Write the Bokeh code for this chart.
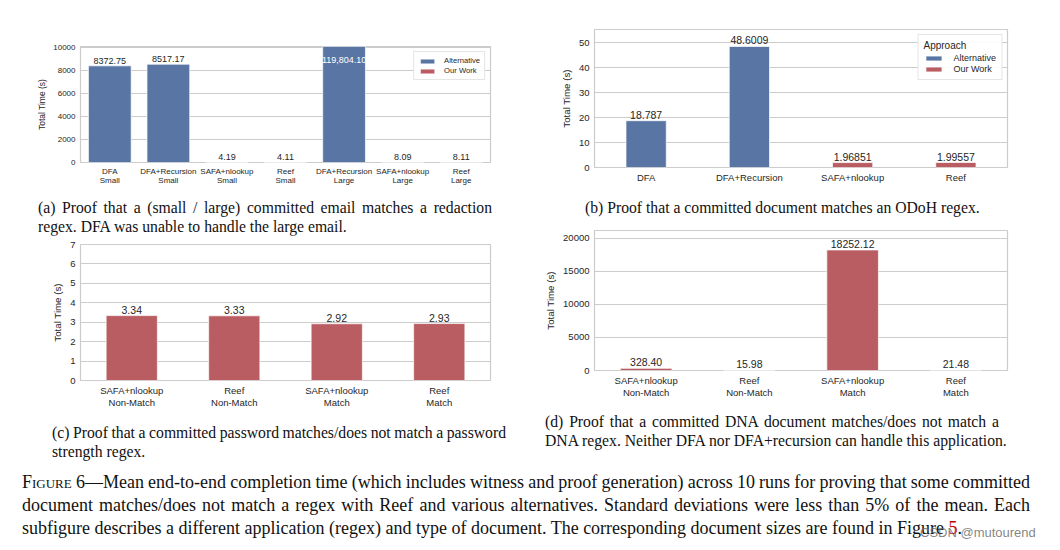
from bokeh.plotting import figure
from bokeh.models import (ColumnDataSource, FactorRange, Range1d, FixedTicker,
                          Legend, LegendItem, Div)
from bokeh.layouts import column, row
from bokeh.embed import file_html
from bokeh.resources import INLINE
from bokeh.core.properties import value

# ---------------- data ----------------
a_categories = ["DFA\nSmall", "DFA+Recursion\nSmall", "SAFA+nlookup\nSmall", "Reef\nSmall",
                "DFA+Recursion\nLarge", "SAFA+nlookup\nLarge", "Reef\nLarge"]
a_values = [8372.75, 8517.17, 4.19, 4.11, 119804.10, 8.09, 8.11]
a_approach = ["Alternative", "Alternative", "Our Work", "Our Work",
              "Alternative", "Our Work", "Our Work"]
a_yticks = [0, 2000, 4000, 6000, 8000, 10000]
a_ymax = 10050

b_categories = ["DFA", "DFA+Recursion", "SAFA+nlookup", "Reef"]
b_values = [18.787, 48.6009, 1.96851, 1.99557]
b_approach = ["Alternative", "Alternative", "Our Work", "Our Work"]
b_yticks = [0, 10, 20, 30, 40, 50]
b_ymax = 55.4

c_categories = ["SAFA+nlookup\nNon-Match", "Reef\nNon-Match", "SAFA+nlookup\nMatch", "Reef\nMatch"]
c_values = [3.34, 3.33, 2.92, 2.93]
c_approach = ["Our Work", "Our Work", "Our Work", "Our Work"]
c_yticks = [0, 1, 2, 3, 4, 5, 6, 7]
c_ymax = 7

d_categories = ["SAFA+nlookup\nNon-Match", "Reef\nNon-Match", "SAFA+nlookup\nMatch", "Reef\nMatch"]
d_values = [328.40, 15.98, 18252.12, 21.48]
d_approach = ["Our Work", "Our Work", "Our Work", "Our Work"]
d_yticks = [0, 5000, 10000, 15000, 20000]
d_ymax = 21200

# ---------------- style ----------------
BLUE = "#5875A4"
RED = "#BA5D62"
COLORS = {"Alternative": BLUE, "Our Work": RED}
SANS = "Liberation Sans"
SERIF = "Liberation Serif"
TEXT = "#262626"
GRID = "#CCCCCC"


def fmt2(v, ymax):
    return f"{v:,.2f}" if v > ymax else f"{v:.2f}"


def fmtg(v, ymax):
    return f"{v:g}"


def make_panel(cats, vals, apps, yticks, ymax, bar_w, size, borders, fs, fmt,
               legend=None, legend_title=None, ylab_standoff=4):
    w, h = size
    bl, br, bt, bb = borders
    tick_fs, lab_fs, ylab_fs = fs
    p = figure(x_range=FactorRange(*cats), y_range=Range1d(0, ymax),
               width=w, height=h, output_backend="svg", toolbar_location=None,
               min_border_left=bl, min_border_right=br,
               min_border_top=bt, min_border_bottom=bb)
    p.outline_line_color = GRID
    p.outline_line_width = 1.2
    p.xgrid.grid_line_color = None
    p.ygrid.grid_line_color = GRID
    p.ygrid.grid_line_width = 1.2
    p.yaxis.ticker = FixedTicker(ticks=yticks)
    for ax in (p.xaxis[0], p.yaxis[0]):
        ax.axis_line_color = None
        ax.major_tick_line_color = None
        ax.minor_tick_line_color = None
        ax.major_tick_out = 0
        ax.major_tick_in = 0
        ax.minor_tick_out = 0
        ax.minor_tick_in = 0
        ax.major_label_text_font = SANS
        ax.major_label_text_font_size = f"{tick_fs}px"
        ax.major_label_text_color = TEXT
    p.xaxis.major_label_standoff = 4
    p.yaxis.major_label_standoff = 5
    p.xaxis.major_label_text_line_height = 1.1
    p.yaxis.axis_label = "Total Time (s)"
    p.yaxis.axis_label_text_font = SANS
    p.yaxis.axis_label_text_font_style = "normal"
    p.yaxis.axis_label_text_font_size = f"{ylab_fs}px"
    p.yaxis.axis_label_text_color = TEXT
    p.yaxis.axis_label_standoff = ylab_standoff

    renderers = {}
    for name in ["Alternative", "Our Work"]:
        idx = [i for i, a in enumerate(apps) if a == name]
        if not idx:
            continue
        src = ColumnDataSource(dict(x=[cats[i] for i in idx], top=[vals[i] for i in idx]))
        renderers[name] = p.vbar(x="x", top="top", bottom=0, width=bar_w, source=src,
                                 fill_color=COLORS[name], line_color="white",
                                 line_width=0.7)

    above = [i for i, v in enumerate(vals) if v <= ymax]
    inside = [i for i, v in enumerate(vals) if v > ymax]
    if above:
        p.text(x=[cats[i] for i in above], y=[vals[i] for i in above],
               text=[fmt(vals[i], ymax) for i in above],
               text_align="center", text_baseline="bottom",
               text_font=value(SANS), text_font_size=f"{lab_fs}px",
               text_color=TEXT, y_offset=-2)
    if inside:
        p.text(x=[cats[i] for i in inside], y=[ymax for i in inside],
               text=[fmt(vals[i], ymax) for i in inside],
               text_align="center", text_baseline="top",
               text_font=value(SANS), text_font_size=f"{lab_fs}px",
               text_color="white", y_offset=10)

    if legend:
        items = [LegendItem(label=n, renderers=[renderers[n]]) for n in ["Alternative", "Our Work"]]
        lg = Legend(items=items, location="top_right")
        lg.margin = legend["margin"]
        lg.padding = legend["padding"]
        lg.spacing = legend["spacing"]
        lg.glyph_height = legend["gh"]
        lg.glyph_width = legend["gw"]
        lg.label_standoff = legend["standoff"]
        lg.label_height = legend["lh"]
        lg.label_text_font = SANS
        lg.label_text_font_size = f"{legend['fs']}px"
        lg.label_text_color = TEXT
        lg.border_line_color = GRID
        lg.border_line_width = 1
        lg.background_fill_alpha = 0.9
        if legend_title:
            lg.title = legend_title
            lg.title_text_font = SANS
            lg.title_text_font_style = "normal"
            lg.title_text_font_size = f"{legend['fs'] + 1}px"
            lg.title_text_color = TEXT
            lg.title_standoff = 2
        p.add_layout(lg)
    return p


legA = dict(margin=5, padding=4, spacing=1, gh=6, gw=18, standoff=8, lh=8, fs=7.6)
legB = dict(margin=5, padding=5, spacing=1, gh=6, gw=20, standoff=10, lh=10, fs=9)

figA = make_panel(a_categories, a_values, a_approach, a_yticks, a_ymax, 0.73,
                  (525, 184), (72, 43, 38, 30), (8, 9, 8.5), fmt2, legend=legA,
                  ylab_standoff=3)
figB = make_panel(b_categories, b_values, b_approach, b_yticks, b_ymax, 0.39,
                  (519, 184), (60, 45, 21, 25), (9.5, 10.5, 9.7), fmtg, legend=legB,
                  legend_title="Approach")
figC = make_panel(c_categories, c_values, c_approach, c_yticks, c_ymax, 0.5,
                  (525, 175), (72, 43, 9, 29), (9.5, 10.5, 9.7), fmt2)
figD = make_panel(d_categories, d_values, d_approach, d_yticks, d_ymax, 0.5,
                  (519, 178), (61, 43, 8, 28), (9.5, 10.5, 9.7), fmt2)


def caption(lines, w, h, pad_left, pad_top, fs=15.7, lh=19, box=454, justify=True):
    parts = []
    for k, ln in enumerate(lines):
        last = (k == len(lines) - 1)
        if justify and not last:
            parts.append(f"<div style=\"width:{box}px;text-align:justify;text-align-last:justify;"
                         f"word-spacing:-1px;white-space:nowrap;\">{ln}</div>")
        else:
            parts.append(f"<div style=\"white-space:nowrap;\">{ln}</div>")
    html = (f"<div style=\"font-family:'{SERIF}';font-size:{fs}px;line-height:{lh}px;"
            f"color:#111;padding-left:{pad_left}px;padding-top:{pad_top}px;\">"
            f"{''.join(parts)}</div>")
    return Div(text=html, width=w, height=h, margin=0)


divA = caption(["(a) Proof that a (small / large) committed email matches a redaction",
                "regex. DFA was unable to handle the large email."], 525, 43, 30, 5.5)
divB = caption(["(b) Proof that a committed document matches an ODoH regex."], 519, 30, 52, 5.5)
divC = caption(["(c) Proof that a committed password matches/does not match a password",
                "strength regex."], 525, 50, 44, 12.5)
divD = caption(["(d) Proof that a committed DNA document matches/does not match a",
                "DNA regex. Neither DFA nor DFA+recursion can handle this application."],
               519, 60, 12, 11.5)

main_lines = [
    "<span style=\"font-variant:small-caps\">Figure</span> 6\u2014Mean end-to-end completion time "
    "(which includes witness and proof generation) across 10 runs for proving that some committed",
    "document matches/does not match a regex with Reef and various alternatives. Standard deviations "
    "were less than 5% of the mean. Each",
    "subfigure describes a different application (regex) and type of document. The corresponding "
    "document sizes are found in Figure <span style=\"color:#C00000\">5</span>.",
]
JUST = "width:1008px;text-align:justify;text-align-last:justify;word-spacing:-1px;white-space:nowrap;"
main_html = (
    f"<div style=\"position:relative;font-family:'{SERIF}';font-size:18px;line-height:23px;"
    f"color:#111;padding-left:14px;padding-top:10.5px;\">"
    f"<div style=\"{JUST}\">{main_lines[0]}</div>"
    f"<div style=\"{JUST}\">{main_lines[1]}</div>"
    f"<div style=\"white-space:nowrap;\">{main_lines[2]}</div>"
    f"<div style=\"position:absolute;left:912px;top:61px;font-family:'{SANS}';font-size:13px;"
    f"color:rgba(110,110,110,0.85);white-space:nowrap;\">CSDN @mutourend</div>"
    f"</div>"
)
divMain = Div(text=main_html, width=1044, height=74, margin=0)

left = column(figA, divA, figC, divC, spacing=0)
right = column(figB, divB, figD, divD, spacing=0)
layout = column(row(left, right, spacing=0), divMain, spacing=0, margin=(8, 0, 0, 8))

open("out.html", "w").write(file_html(layout, INLINE))
